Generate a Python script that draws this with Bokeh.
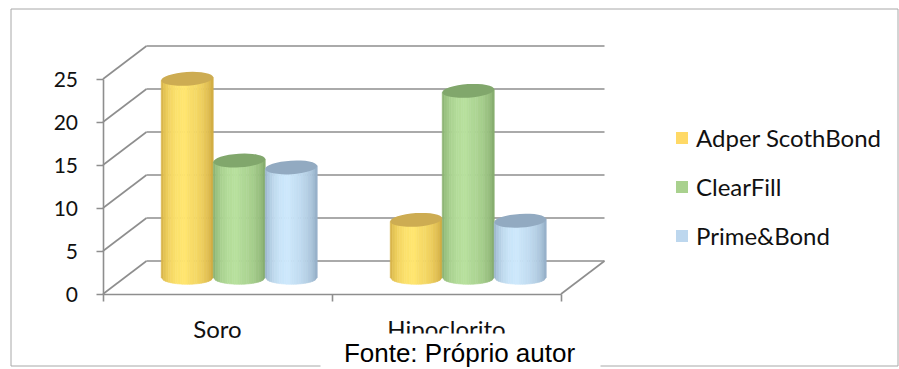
import math
from bokeh.plotting import figure
from bokeh.models import Range1d, LinearAxis, FixedTicker, Legend, LegendItem
from bokeh.core.properties import value
from bokeh.embed import file_html
from bokeh.resources import INLINE

# ---------------- data ----------------
categories = ["Soro", "Hipoclorito"]
series_names = ["Adper ScothBond", "ClearFill", "Prime&Bond"]
adper = [23.1, 6.7]
clearfill = [13.6, 21.7]
prime = [12.8, 6.6]
y_ticks = [0, 5, 10, 15, 20, 25]
source_note = "Fonte: Próprio autor"

# ---------------- styles ----------------
legend_colors = ["#FFD966", "#A9D18E", "#BDD7EE"]
body_light = ["#FFE56F", "#B7E09D", "#CDE8FC"]
body_dark = ["#C8A03A", "#7CA265", "#8BA5BD"]
top_colors = ["#CDAC52", "#81A76C", "#92AAC1"]
GRID = "#8E8E8E"
BORDER = "#A8A8A8"
TEXT = "#111111"

W, H = 899, 369
X0_PX = 102.5      # front-left corner of the floor
CAT_PX = 229.0     # width of one category on the front edge
Y0_PX = 293.5      # front floor line (value 0)
UNIT_PX = 8.6      # pixels per value unit
DEPTH_DX_PX = 43.5
DEPTH_DY_PX = 33.0
BAR_PX = 52.0
ELL_B_PX = 6.8
TILT = 0.06


def xd(px):
    return (px - X0_PX) / CAT_PX


def yd(py):
    return (Y0_PX - py) / UNIT_PX


dx = DEPTH_DX_PX / CAT_PX
dy = DEPTH_DY_PX / UNIT_PX
n_cat = len(categories)

p = figure(width=W, height=H, x_range=Range1d(xd(0), xd(W)), y_range=Range1d(yd(H), yd(0)),
           output_backend="svg", toolbar_location=None, x_axis_type=None, y_axis_type=None,
           min_border=0, outline_line_color=None, background_fill_color="white",
           border_fill_color="white")

# outer chart border
p.quad(left=[xd(10.5)], right=[xd(897.5)], top=[yd(8.5)], bottom=[yd(365.5)],
       fill_color=None, line_color=BORDER, line_width=1)

# back wall gridlines
top_tick = max(y_ticks)
p.segment(x0=[dx] * len(y_ticks), y0=[t + dy for t in y_ticks],
          x1=[n_cat + dx] * len(y_ticks), y1=[t + dy for t in y_ticks],
          line_color=GRID, line_width=1.6)
# side wall diagonals
p.segment(x0=[0] * len(y_ticks), y0=y_ticks, x1=[dx] * len(y_ticks), y1=[t + dy for t in y_ticks],
          line_color=GRID, line_width=1.6)
# floor right edge
p.segment(x0=[n_cat], y0=[0], x1=[n_cat + dx], y1=[dy], line_color=GRID, line_width=1.6)


def hex2rgb(h):
    h = h.lstrip("#")
    return tuple(int(h[i:i + 2], 16) for i in (0, 2, 4))


def mix(c1, c2, t):
    a, b = hex2rgb(c1), hex2rgb(c2)
    return "#%02x%02x%02x" % tuple(int(round(a[i] + (b[i] - a[i]) * t)) for i in range(3))


def shade_weight(u):
    w = math.sin(math.pi * (u ** 0.87)) ** 0.55
    if u > 0.5:
        w *= 0.92
    return w


# cylinders
series = [adper, clearfill, prime]
n_ser = len(series)
bar_w = BAR_PX / CAT_PX
b_val = ELL_B_PX / UNIT_PX
base = dy / 2
N = 22
slope_val = math.tan(TILT) * CAT_PX / UNIT_PX  # value units per x unit

xs, ys, cols = [], [], []
ell_x, ell_y, ell_c = [], [], []
for s, vals in enumerate(series):
    for c, v in enumerate(vals):
        xc = c + 0.5 + dx / 2 + (s - (n_ser - 1) / 2) * bar_w
        top = base + v
        xl = xc - bar_w / 2
        for i in range(N):
            u0, u1 = i / N, (i + 1) / N
            x0s, x1s = xl + u0 * bar_w, xl + u1 * bar_w
            b0 = base - b_val * math.sqrt(max(0.0, 1 - (2 * u0 - 1) ** 2))
            b1 = base - b_val * math.sqrt(max(0.0, 1 - (2 * u1 - 1) ** 2))
            t0 = top + slope_val * (x0s - xc)
            t1 = top + slope_val * (x1s - xc)
            xs.append([x0s, x1s, x1s, x0s])
            ys.append([b0, b1, t1, t0])
            cols.append(mix(body_dark[s], body_light[s], shade_weight((u0 + u1) / 2)))
        ell_x.append(xc)
        ell_y.append(top)
        ell_c.append(top_colors[s])

p.patches(xs=xs, ys=ys, fill_color=cols, line_color=cols, line_width=0.6)
p.ellipse(x=ell_x, y=ell_y, width=bar_w, height=2 * b_val, angle=TILT,
          fill_color=ell_c, line_color=None)

# axes
yaxis = LinearAxis(fixed_location=0, bounds=(0, top_tick),
                   ticker=FixedTicker(ticks=y_ticks, minor_ticks=[]),
                   axis_line_color=GRID, axis_line_width=1.6,
                   major_tick_line_color=GRID, major_tick_line_width=1.6,
                   major_tick_out=7, major_tick_in=0, minor_tick_line_color=None,
                   major_label_text_font="Lato", major_label_text_font_size="21px",
                   major_label_text_color=TEXT, major_label_standoff=18)
p.add_layout(yaxis, "left")

xaxis = LinearAxis(fixed_location=0, bounds=(0, n_cat),
                   ticker=FixedTicker(ticks=[i + 0.5 for i in range(n_cat)],
                                      minor_ticks=list(range(n_cat + 1))),
                   major_label_overrides={i + 0.5: cat for i, cat in enumerate(categories)},
                   axis_line_color=GRID, axis_line_width=1.6,
                   major_tick_line_color=None, major_tick_out=0, major_tick_in=0,
                   minor_tick_line_color=GRID, minor_tick_line_width=1.6,
                   minor_tick_out=7, minor_tick_in=0,
                   major_label_text_font="Lato", major_label_text_font_size="24px",
                   major_label_text_color=TEXT, major_label_standoff=13)
p.add_layout(xaxis, "below")

# legend (zero-size swatch renderers, only used for the legend glyphs)
leg_r = [p.quad(left=[0], right=[0], top=[0], bottom=[0], fill_color=col, line_color=None)
         for col in legend_colors]
legend = Legend(items=[LegendItem(label=n, renderers=[r]) for n, r in zip(series_names, leg_r)],
                location=(674, 119), orientation="vertical", padding=0, margin=0,
                spacing=20, glyph_width=15, glyph_height=15, label_height=21,
                label_standoff=7, label_text_font="Lato", label_text_font_size="24px",
                label_text_color=TEXT, border_line_color=None, background_fill_alpha=0)
p.add_layout(legend)

# source note box
p.quad(left=[xd(320)], right=[xd(600)], top=[yd(333)], bottom=[yd(380)],
       fill_color="white", line_color=None, level="overlay")
p.text(x=[xd(459)], y=[yd(352)], text=[source_note], text_font=value("Liberation Sans"),
       text_font_size="26px", text_align="center", text_baseline="middle",
       text_color="#000000", level="overlay")

open("out.html", "w").write(file_html(p, INLINE))
